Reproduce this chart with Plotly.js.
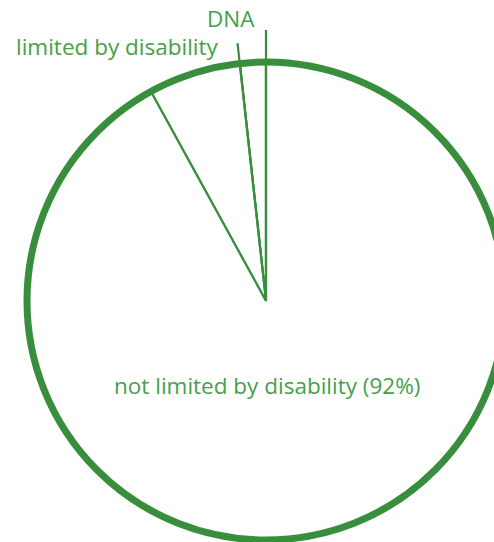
<!DOCTYPE html>
<html>
<head>
<meta charset="utf-8">
<script src="https://cdn.plot.ly/plotly-3.0.1.min.js"></script>
<style>
html,body{margin:0;padding:0;overflow:hidden;background:#fff;width:494px;height:542px;}
#chart{width:560px;height:600px;margin-left:-20px;}
</style>
</head>
<body>
<div id="chart"></div>
<script>
// Data
const categories = ["DNA", "limited by disability", "not limited by disability"];
const values = [1.75, 6.25, 92];
const shownPercent = [null, null, 92];

const GREEN = "#388e3c";
const TEXT = "#46a04a";
const W = 560, H = 600, OFF = 20;
const CX = 266 + OFF, CY = 301, R = 239;
const leaderLen = [1.134, 1.085];   // leader line lengths relative to pie radius
const R2 = R * Math.max.apply(null, leaderLen);

const total = values.reduce((a, b) => a + b, 0);
let cum = 0;
const starts = [], mids = [], widths = [];
values.forEach(v => {
  const w = v / total * 360;
  starts.push(cum);
  mids.push(cum + w / 2);
  widths.push(w);
  cum += w;
});

const traces = [{
  type: "barpolar",
  subplot: "polar",
  r: values.map(() => 1),
  theta: mids,
  width: widths,
  marker: {color: "#ffffff", line: {color: GREEN, width: 2.2}},
  hoverinfo: "skip",
  showlegend: false
}];

[0, 1].forEach(i => {
  traces.push({
    type: "scatterpolar",
    subplot: "polar2",
    mode: "lines",
    r: [0, leaderLen[i]],
    theta: [starts[i], starts[i]],
    line: {color: GREEN, width: 2.2},
    hoverinfo: "skip",
    showlegend: false
  });
});

const font = {family: "'Open Sans', sans-serif", size: 22.5, color: TEXT};
const annotations = [
  {text: categories[0], x: (231 + OFF) / W, y: 1 - 18 / H, xanchor: "center", yanchor: "middle"},
  {text: categories[1], x: (221 + OFF) / W, y: 1 - 46 / H, xanchor: "right", yanchor: "middle"},
  {text: categories[2] + " (" + shownPercent[2] + "%)", x: (267 + OFF) / W, y: 1 - 385 / H, xanchor: "center", yanchor: "middle"}
].map(a => Object.assign({xref: "paper", yref: "paper", showarrow: false, font: font}, a));

const angular = {
  rotation: 90, direction: "counterclockwise",
  showgrid: false, showticklabels: false, ticks: ""
};

const layout = {
  width: W, height: H,
  margin: {l: 0, r: 0, t: 0, b: 0},
  paper_bgcolor: "#fff",
  showlegend: false,
  polar: {
    domain: {x: [(CX - R) / W, (CX + R) / W], y: [1 - (CY + R) / H, 1 - (CY - R) / H]},
    bgcolor: "#fff",
    bargap: 0,
    radialaxis: {visible: false, range: [0, 1], showgrid: false},
    angularaxis: Object.assign({showline: true, linecolor: GREEN, linewidth: 7, layer: "above traces"}, angular)
  },
  polar2: {
    domain: {x: [(CX - R2) / W, (CX + R2) / W], y: [1 - (CY + R2) / H, 1 - (CY - R2) / H]},
    bgcolor: "rgba(0,0,0,0)",
    radialaxis: {visible: false, range: [0, Math.max.apply(null, leaderLen)], showgrid: false},
    angularaxis: Object.assign({showline: false}, angular)
  },
  annotations: annotations
};

Plotly.newPlot("chart", traces, layout, {displayModeBar: false, staticPlot: true});
</script>
</body>
</html>
